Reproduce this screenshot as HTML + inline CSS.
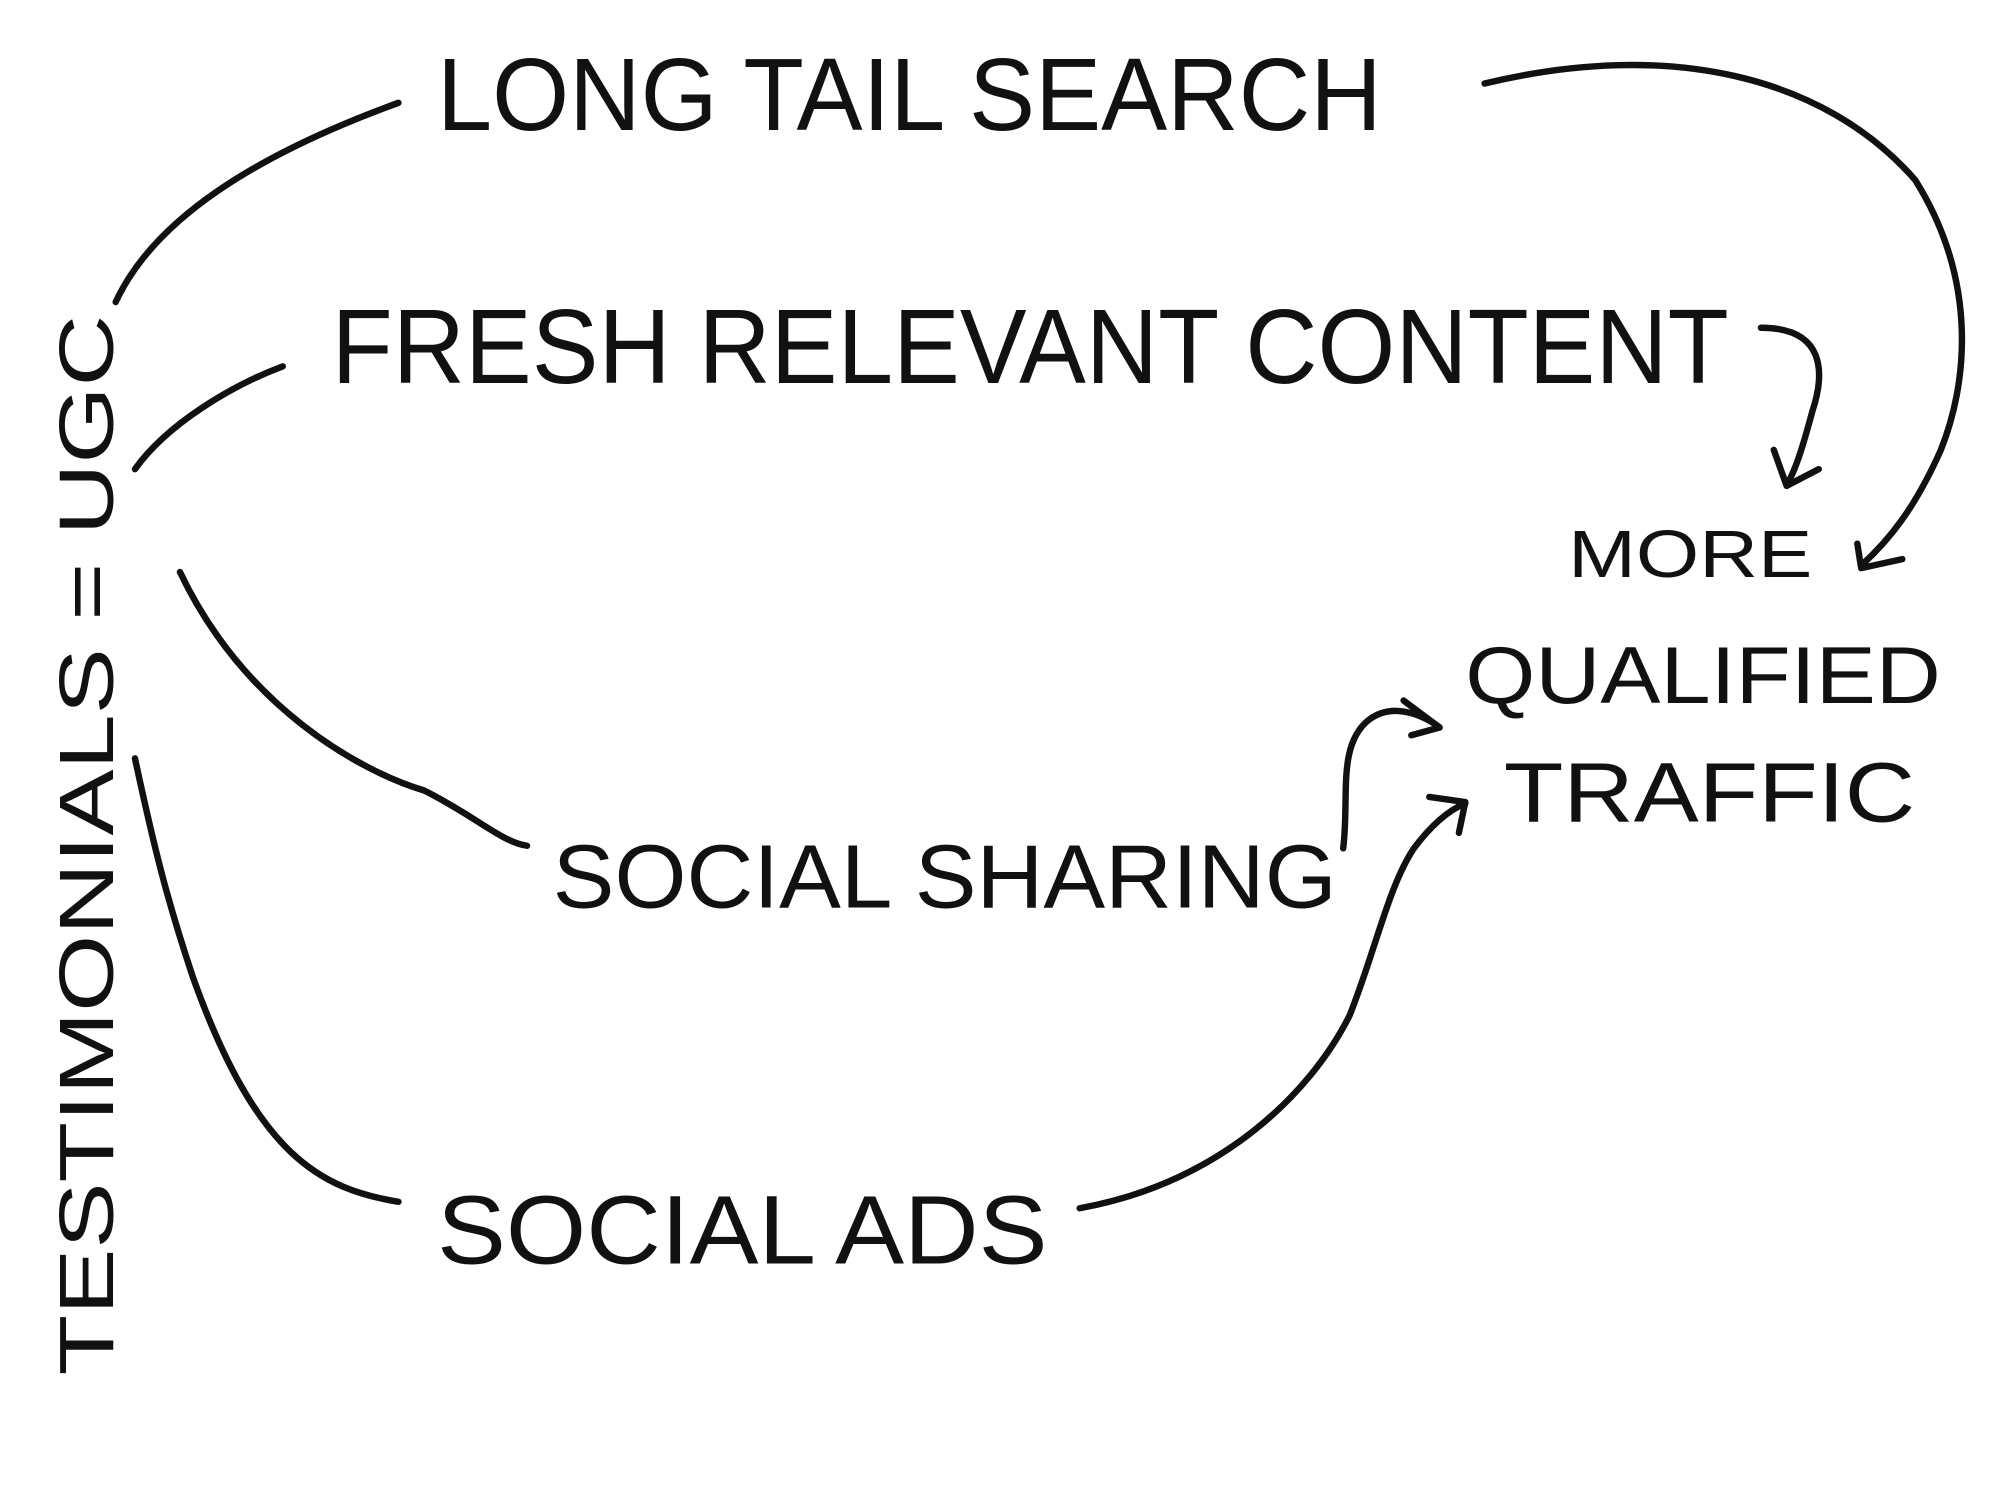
<!DOCTYPE html>
<html><head><meta charset="utf-8"><style>
html,body{margin:0;padding:0;background:#fff;width:2000px;height:1500px;overflow:hidden}
svg{display:block}
text{font-family:"Liberation Sans",sans-serif;fill:#111;font-weight:normal}
path{fill:none;stroke:#111;stroke-width:5;stroke-linecap:round;stroke-linejoin:round}
</style></head><body>
<svg width="2000" height="1500" viewBox="0 0 1556 1167" xmlns="http://www.w3.org/2000/svg">
<text x="340" y="101" font-size="80" textLength="735" lengthAdjust="spacingAndGlyphs">LONG TAIL SEARCH</text>
<text x="258" y="298" font-size="82" textLength="1087" lengthAdjust="spacingAndGlyphs">FRESH RELEVANT CONTENT</text>
<text x="1220" y="449" font-size="52" textLength="190" lengthAdjust="spacingAndGlyphs">MORE</text>
<text x="1140" y="547" font-size="63" textLength="370" lengthAdjust="spacingAndGlyphs">QUALIFIED</text>
<text x="1170" y="639" font-size="66" textLength="320" lengthAdjust="spacingAndGlyphs">TRAFFIC</text>
<text x="430" y="706" font-size="70" textLength="610" lengthAdjust="spacingAndGlyphs">SOCIAL SHARING</text>
<text x="340" y="983" font-size="76" textLength="475" lengthAdjust="spacingAndGlyphs">SOCIAL ADS</text>
<text transform="translate(88,1070) rotate(-90)" x="0" y="0" font-size="60" textLength="825" lengthAdjust="spacingAndGlyphs">TESTIMONIALS = UGC</text>

<path d="M90,235 C120,170 200,120 310,80"/>
<path d="M1155,65 C1300,30 1420,60 1490,140 C1540,220 1530,300 1510,350 C1490,395 1470,420 1448,440"/>
<path d="M1445,423 L1448,442 L1480,435"/>
<path d="M105,365 C130,330 180,300 220,285"/>
<path d="M1370,255 C1420,255 1420,290 1410,320 C1402,350 1396,368 1390,377"/>
<path d="M1380,350 L1390,378 L1415,365"/>
<path d="M140,445 C190,550 280,600 330,615 C370,635 390,655 410,658"/>
<path d="M105,590 C120,660 130,700 150,760 C200,900 250,925 310,935"/>
<path d="M1045,660 C1050,620 1040,580 1065,560 C1085,545 1110,558 1120,566"/>
<path d="M1092,545 L1120,566 L1098,572"/>
<path d="M840,940 C950,920 1020,850 1050,790 C1070,740 1080,690 1100,660 C1115,640 1128,630 1140,625"/>
<path d="M1112,620 L1140,624 L1135,648"/>
</svg>
</body></html>
